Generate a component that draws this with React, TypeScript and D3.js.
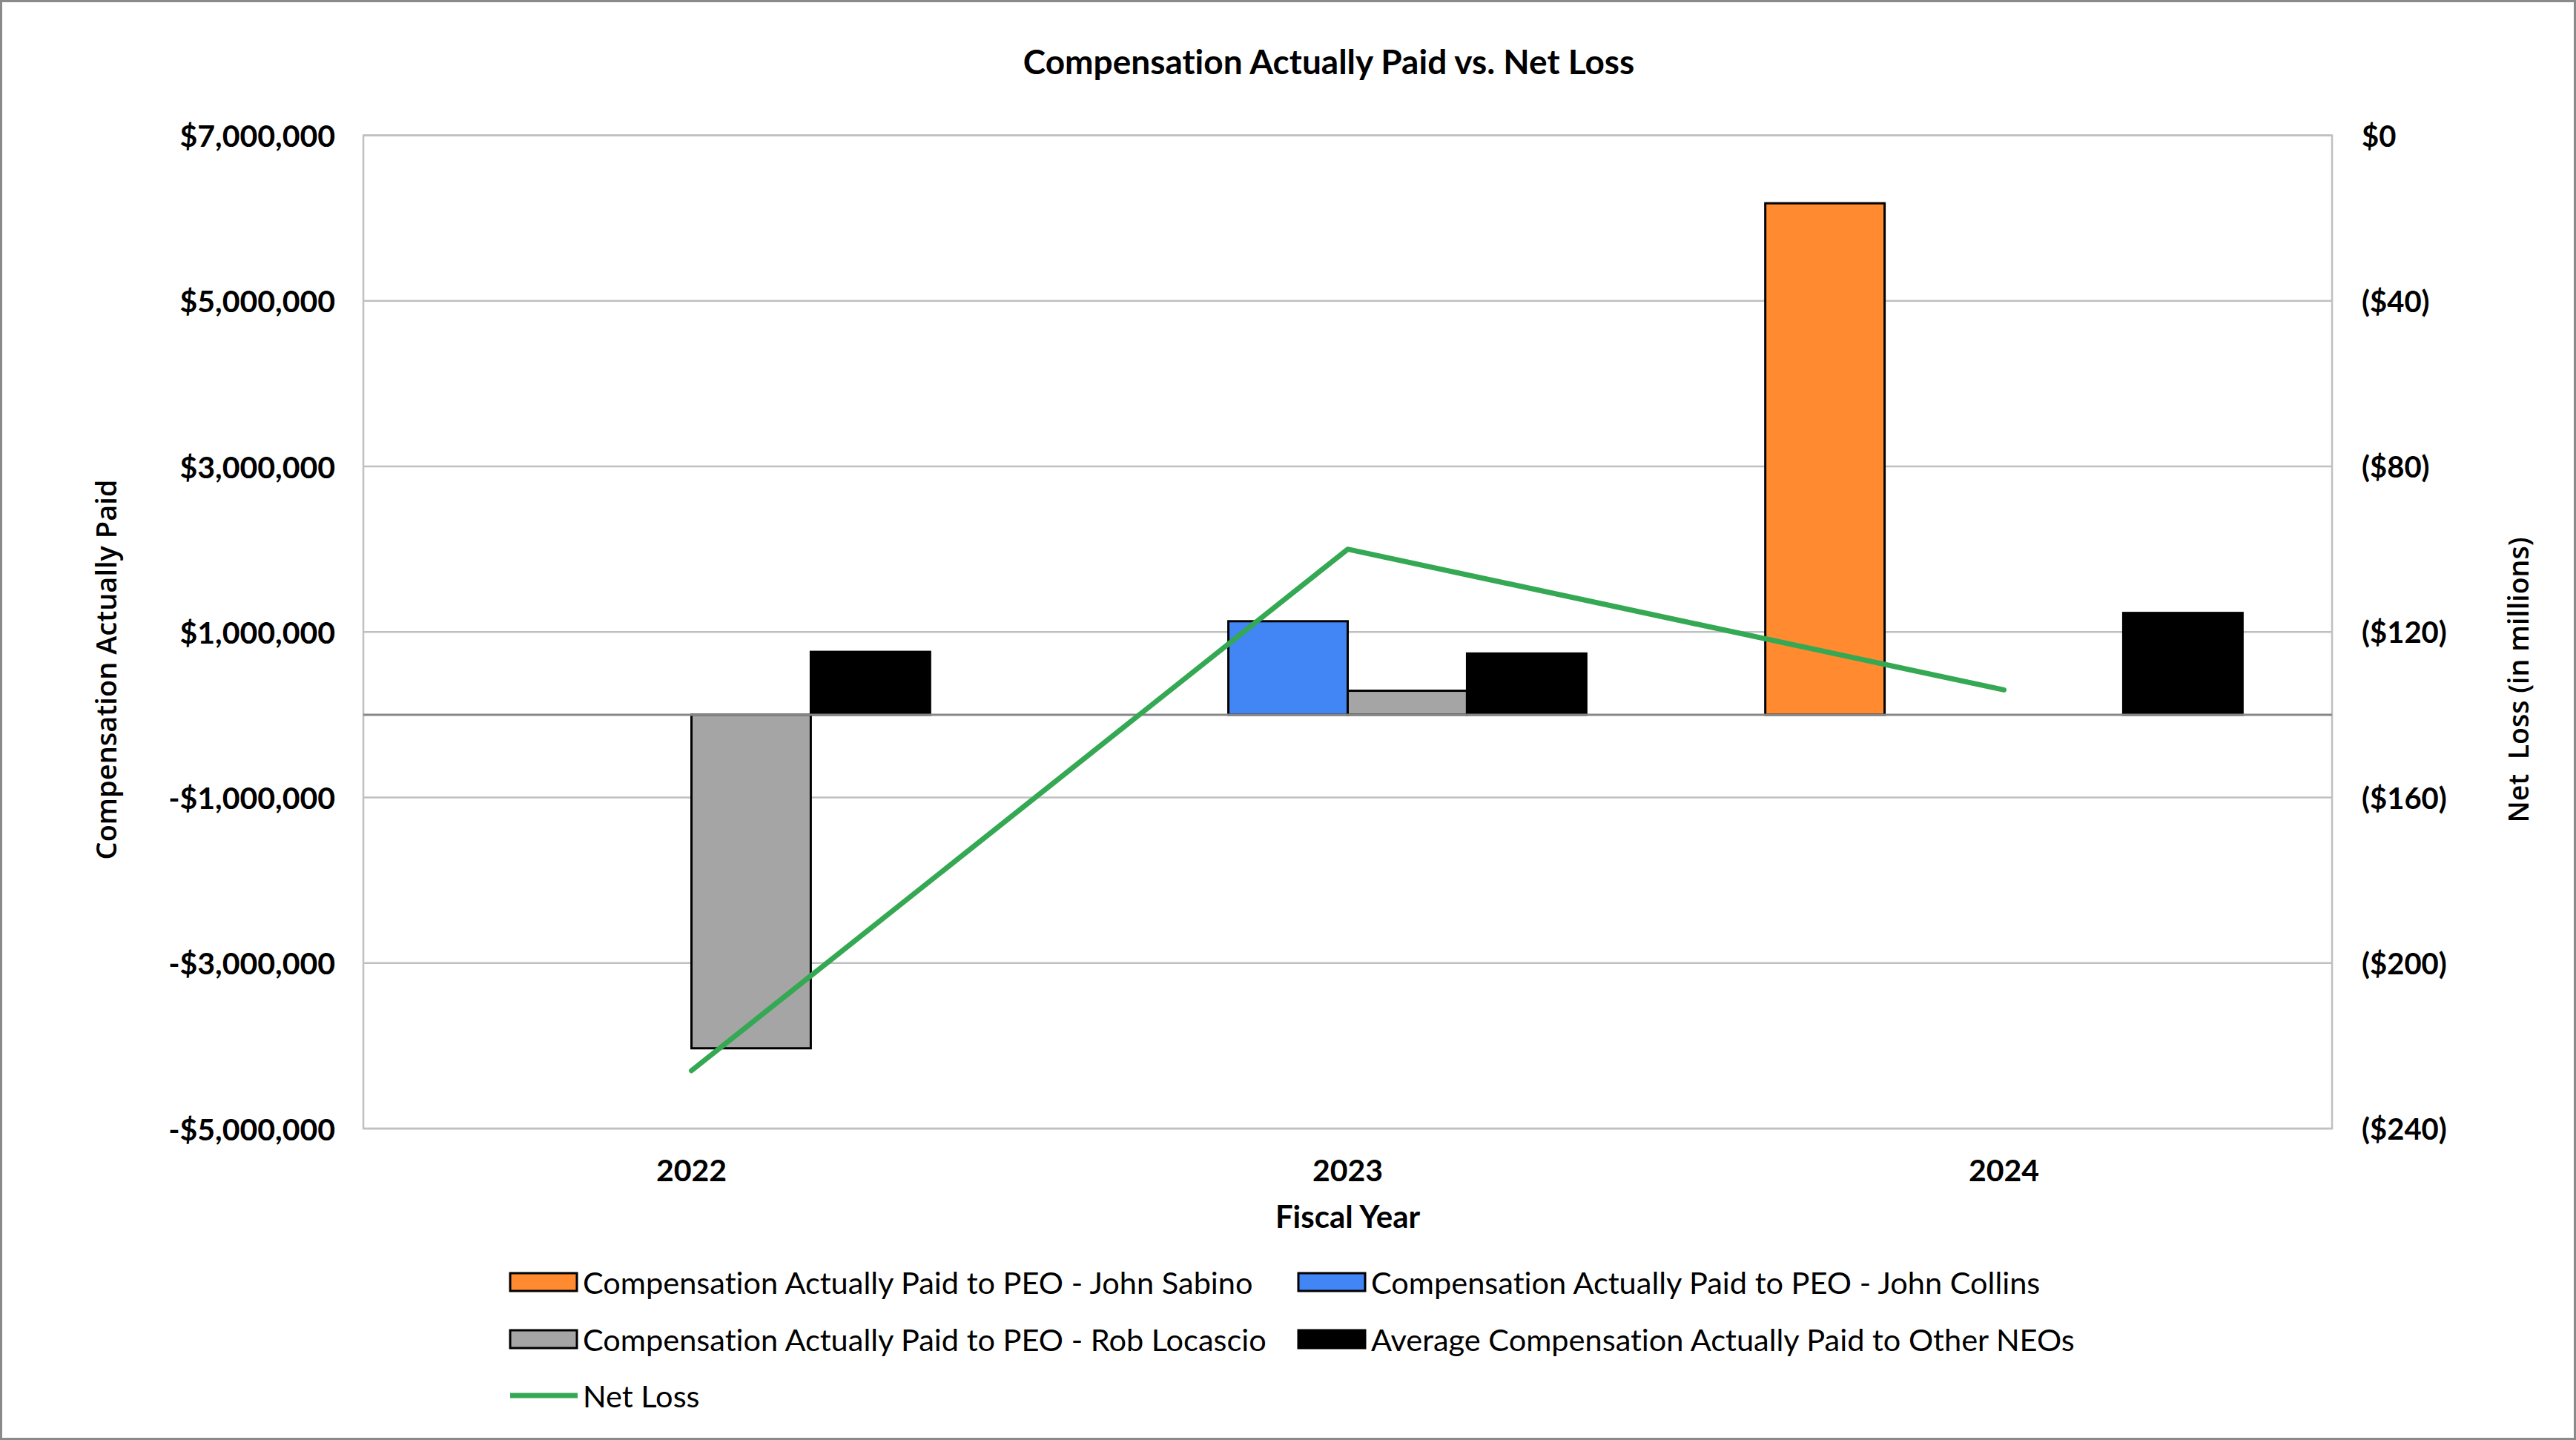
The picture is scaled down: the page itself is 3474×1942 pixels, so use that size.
import React from "react";
import * as d3 from "d3";

const categories = ["2022", "2023", "2024"];
const seriesNames = [
  "Compensation Actually Paid to PEO - John Sabino",
  "Compensation Actually Paid to PEO - John Collins",
  "Compensation Actually Paid to PEO - Rob Locascio",
  "Average Compensation Actually Paid to Other NEOs",
];
const sabino: (number | null)[] = [null, null, 6180000];
const collins: (number | null)[] = [null, 1130000, null];
const locascio: (number | null)[] = [-4030000, 290000, null];
const otherNeos: (number | null)[] = [760000, 740000, 1230000];
const netLoss = [-226, -100, -134];
const leftTicks = [-5000000, -3000000, -1000000, 1000000, 3000000, 5000000, 7000000];
const rightTicks = [-240, -200, -160, -120, -80, -40, 0];

const W = 3474;
const H = 1942;
const colors = ["#FF8A30", "#4285F4", "#A5A5A5", "#000000"];
const lineColor = "#34A853";
const font = "Lato, 'Open Sans', sans-serif";
const titleFont = "'Open Sans', 'Noto Sans', sans-serif";
const noLig = { fontVariantLigatures: "none" as const };

export default function App() {
  const left = 490, right = 3145, top = 182.6, bottom = 1522;
  const x = d3.scaleBand<string>().domain(categories).range([left, right]).paddingInner(0.2727).paddingOuter(0.13635);
  const xi = d3.scaleBand<string>().domain(seriesNames).range([0, x.bandwidth()]);
  const y = d3.scaleLinear().domain([-5000000, 7000000]).range([bottom, top]);
  const y2 = d3.scaleLinear().domain([-240, 0]).range([bottom, top]);
  const series = [sabino, collins, locascio, otherNeos];
  const fmtL = (v: number) => (v < 0 ? "-$" : "$") + d3.format(",")(Math.abs(v));
  const fmtR = (v: number) => (v === 0 ? "$0" : `($${Math.abs(v)})`);
  const cx = (c: string) => (x(c) as number) + x.bandwidth() / 2;
  const line = d3.line<number>().x((_, i) => cx(categories[i])).y((d) => y2(d));

  const legendItems = [
    { name: seriesNames[0], color: colors[0], x: 688, y: 1729 },
    { name: seriesNames[1], color: colors[1], x: 1751, y: 1729 },
    { name: seriesNames[2], color: colors[2], x: 688, y: 1806 },
    { name: seriesNames[3], color: colors[3], x: 1751, y: 1806 },
  ];

  return (
    <div style={{ position: "absolute", left: 0, top: 0 }}>
      <svg width={W} height={H} style={{ display: "block", background: "#fff", ...noLig }}>
        <rect x={1.5} y={1.5} width={W - 3} height={H - 3} fill="#fff" stroke="#8a8a8a" strokeWidth={3} />
        <text x={1792} y={82} textAnchor="middle" dominantBaseline="central" fontFamily={font} fontWeight={700} fontSize={46}>
          Compensation Actually Paid vs. Net Loss
        </text>
        {leftTicks.map((t) => (
          <line key={t} x1={left} x2={right} y1={y(t)} y2={y(t)} stroke="#c0c0c0" strokeWidth={2.5} />
        ))}
        <rect x={left} y={top} width={right - left} height={bottom - top} fill="none" stroke="#c0c0c0" strokeWidth={2.5} />
        {series.map((vals, si) =>
          vals.map((v, ci) => {
            if (v === null) return null;
            const bx = (x(categories[ci]) as number) + (xi(seriesNames[si]) as number);
            const y0 = y(0), y1 = y(v);
            return (
              <rect
                key={`${si}-${ci}`}
                x={bx}
                y={Math.min(y0, y1)}
                width={xi.bandwidth()}
                height={Math.abs(y1 - y0)}
                fill={colors[si]}
                stroke="#000"
                strokeWidth={3}
              />
            );
          })
        )}
        <line x1={left} x2={right} y1={y(0)} y2={y(0)} stroke="#878787" strokeWidth={3} />
        <path d={line(netLoss) || ""} fill="none" stroke={lineColor} strokeWidth={7} strokeLinejoin="round" strokeLinecap="round" />
        {leftTicks.map((t) => (
          <text key={t} x={452} y={y(t)} textAnchor="end" dominantBaseline="central" fontFamily={font} fontWeight={700} fontSize={41}>
            {fmtL(t)}
          </text>
        ))}
        {rightTicks.map((t) => (
          <text key={t} x={3185} y={y2(t)} textAnchor="start" dominantBaseline="central" fontFamily={font} fontWeight={700} fontSize={40}>
            {fmtR(t)}
          </text>
        ))}
        {categories.map((c) => (
          <text key={c} x={cx(c)} y={1577} textAnchor="middle" dominantBaseline="central" fontFamily={font} fontWeight={700} fontSize={41}>
            {c}
          </text>
        ))}
        <text x={(left + right) / 2} y={1640} textAnchor="middle" dominantBaseline="central" fontFamily={font} fontWeight={700} fontSize={42}>
          Fiscal Year
        </text>
        <text transform="translate(142,903) rotate(-90)" textAnchor="middle" dominantBaseline="central" fontFamily={titleFont} fontWeight={600} fontSize={38}>
          Compensation Actually Paid
        </text>
        <text transform="translate(3395,917) rotate(-90)" textAnchor="middle" dominantBaseline="central" fontFamily={titleFont} fontWeight={600} fontSize={37.5} style={{ whiteSpace: "pre" }}>
          {"Net  Loss (in millions)"}
        </text>
        {legendItems.map((it) => (
          <g key={it.name}>
            <rect x={it.x} y={it.y - 12} width={90} height={24} fill={it.color} stroke="#000" strokeWidth={3} />
            <text x={it.x + 98} y={it.y} dominantBaseline="central" fontFamily={font} fontSize={41.5}>
              {it.name}
            </text>
          </g>
        ))}
        <line x1={688} x2={779} y1={1882} y2={1882} stroke={lineColor} strokeWidth={7} />
        <text x={786} y={1882} dominantBaseline="central" fontFamily={font} fontSize={41.5}>
          Net Loss
        </text>
      </svg>
    </div>
  );
}
